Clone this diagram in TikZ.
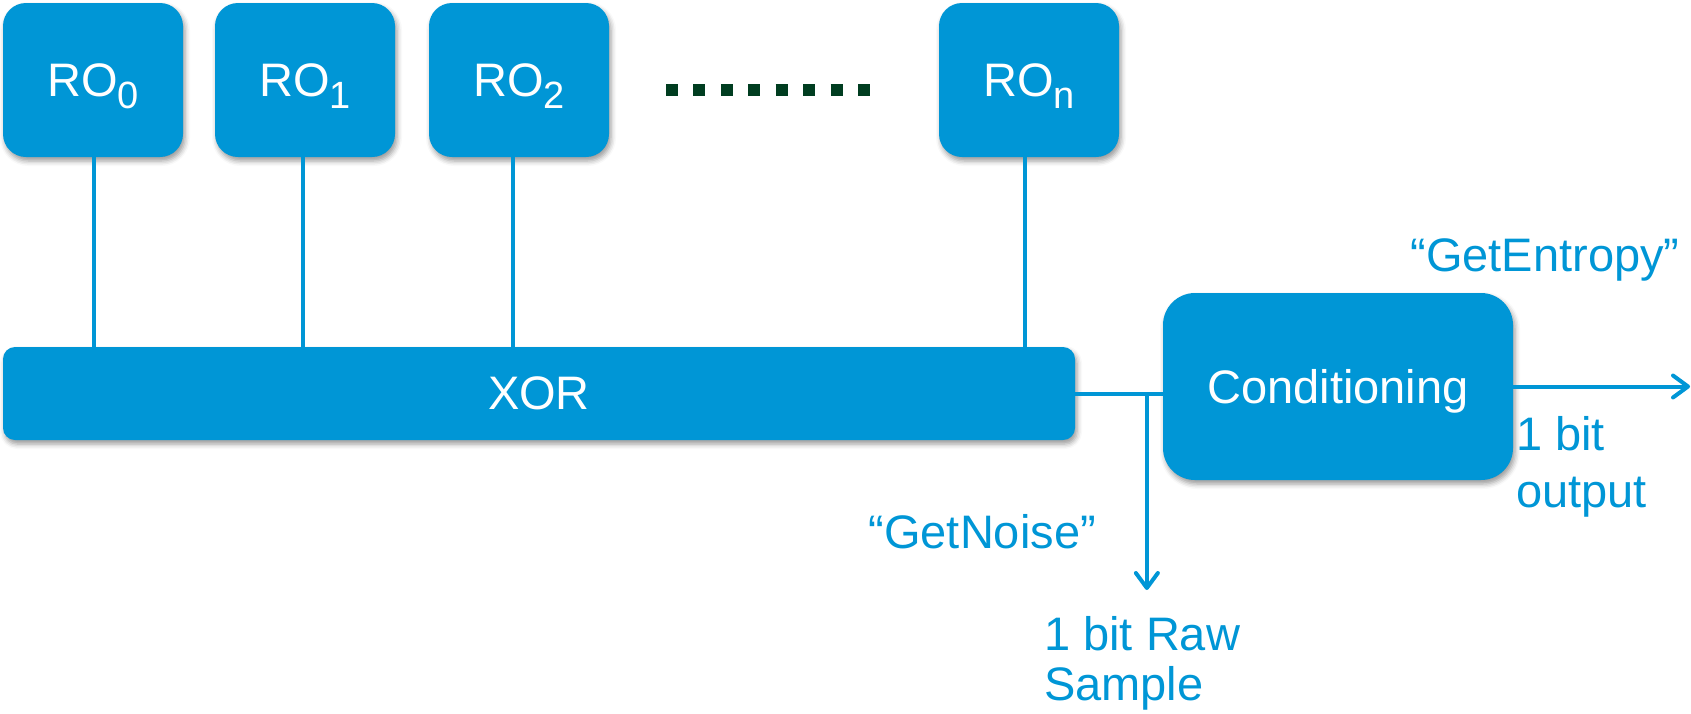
\documentclass[tikz,border=0pt]{standalone}
\usepackage{fontspec}
\setmainfont{Liberation Sans}
\usetikzlibrary{arrows.meta,shadows.blur}
\definecolor{boxblue}{RGB}{0,150,214}
\definecolor{dotgreen}{RGB}{0,61,32}
% lowered, smaller index after "RO"
\newcommand\rosub[1]{\raisebox{-12pt}{\fontsize{38}{40}\selectfont #1}}
\begin{document}
\begin{tikzpicture}[x=1pt,y=-1pt,
  blk/.style={fill=boxblue, text=white, inner sep=0pt, text depth=0pt,
    font=\fontsize{47}{56}\selectfont,
    blur shadow={shadow xshift=2pt, shadow yshift=-4pt, shadow blur radius=5pt, shadow opacity=40}},
  ro/.style={blk, rounded corners=23pt, minimum width=180pt, minimum height=154pt},
  wire/.style={draw=boxblue, line width=4pt},
  tip/.style={-{Straight Barb[length=15pt,width=22pt,round]}},
  lbl/.style={text=boxblue, inner sep=0pt, font=\fontsize{47}{56}\selectfont}]
\useasboundingbox (0,0) rectangle (1691,713);

% ring oscillators
\node[ro] (ro0) at (93,80)   {RO\rosub{0}};
\node[ro] (ro1) at (305,80)  {RO\rosub{1}};
\node[ro] (ro2) at (519,80)  {RO\rosub{2}};
\node[ro] (ron) at (1029,80) {RO\rosub{n}};

% ellipsis between the oscillators
\draw[dotgreen, line width=12pt, dash pattern=on 12pt off 15.43pt] (666,90) -- (870,90);

% combining gate and post-processing
\node[blk, rounded corners=12pt, minimum width=1072pt, minimum height=93pt] (xor) at (539,393.5) {XOR};
\node[blk, rounded corners=32pt, minimum width=350pt, minimum height=187pt] (cond) at (1338,386.5) {Conditioning};

% oscillator outputs into the XOR
\foreach \n/\dx in {ro0/1,ro1/-2,ro2/-6,ron/-4}
  \draw[wire] ([xshift=\dx pt]\n.south) -- ([xshift=\dx pt]\n.south |- xor.north);

% XOR result to conditioning, with the raw tap
\draw[wire] (xor.east) -- (xor.east -| cond.west);
\path (xor.east) -- (xor.east -| cond.west) coordinate[pos=0.818] (tap);
\coordinate (rawend) at ([yshift=-196.5pt]tap);
\draw[wire,tip] (tap) -- (rawend);

% conditioned output
\coordinate (outend) at (1690,386.5);
\draw[wire,tip] (cond.east) -- (outend);

% labels
\node[lbl, anchor=base] (entlbl) at (1545,271) {“GetEntropy”};
\node[lbl, anchor=north west, align=left, font=\fontsize{47}{57}\selectfont] (outlbl) at (1516,416) {1 bit\\output};
\node[lbl, anchor=base east] (noiselbl) at (1096,548) {“GetNoise”};
\node[lbl, anchor=north west, align=left, font=\fontsize{47}{50}\selectfont] (rawlbl) at (1044,616) {1 bit Raw\\Sample};
\end{tikzpicture}
\end{document}
